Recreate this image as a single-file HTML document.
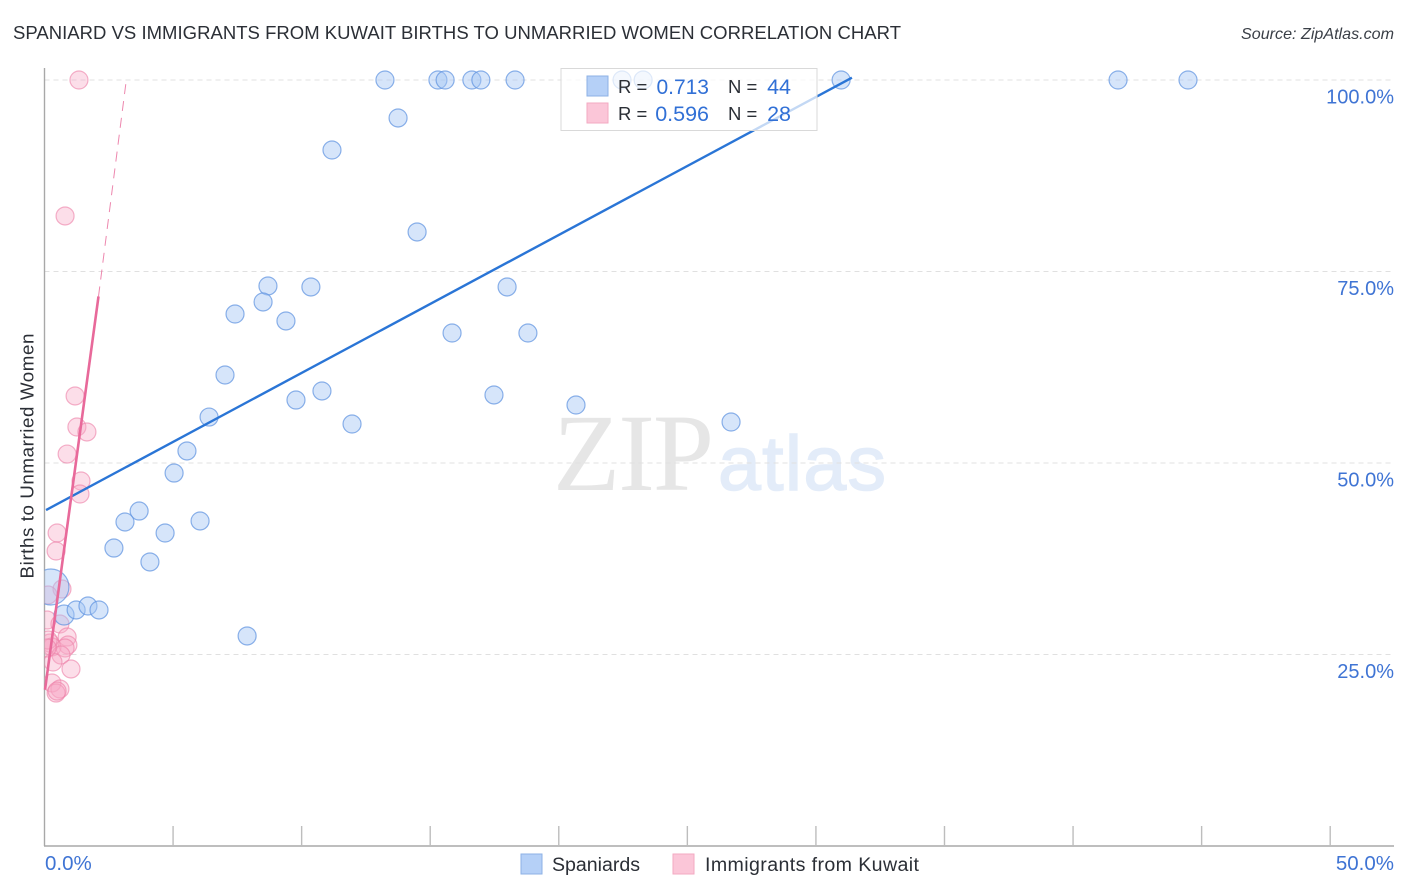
<!DOCTYPE html>
<html lang="en">
<head>
<meta charset="utf-8">
<title>Spaniard vs Immigrants from Kuwait Births to Unmarried Women Correlation Chart</title>
<style>
html,body{margin:0;padding:0;background:#fff;}
body{width:1406px;height:892px;overflow:hidden;}
svg{display:block;font-family:"Liberation Sans",sans-serif;}
</style>
</head>
<body>
<svg id="chart" width="1406" height="892" viewBox="0 0 1406 892" xmlns="http://www.w3.org/2000/svg">
  <defs>
    <clipPath id="plot-clip"><rect x="44.5" y="60" width="1350" height="786"/></clipPath>
  </defs>
  <rect width="1406" height="892" fill="#fff"/>
  <text x="13" y="39" font-size="18.5" fill="#2b2f36" textLength="888">SPANIARD VS IMMIGRANTS FROM KUWAIT BIRTHS TO UNMARRIED WOMEN CORRELATION CHART</text>
  <text x="1394" y="39" font-size="16.1" font-style="italic" fill="#3a3f47" text-anchor="end">Source: ZipAtlas.com</text>
  <g>
    <text x="553" y="490" font-family="'Liberation Serif',serif" font-size="110" fill="#e6e6e6" textLength="161">ZIP</text>
    <text x="718" y="490" font-size="77" fill="#e3ecf9" stroke="#e3ecf9" stroke-width="1.5" textLength="168">atlas</text>
  </g>
  <g id="grid"></g>
  <g id="axes"></g>
  <g id="pink-points" clip-path="url(#plot-clip)"></g>
  <g id="blue-points" clip-path="url(#plot-clip)"></g>
  <g id="trends"></g>
  <g>
    <rect x="561" y="68.5" width="256" height="62" fill="#fff" fill-opacity="0.72" stroke="#d9d9d9" stroke-width="1"/>
    <rect x="587" y="76" width="21" height="20" fill="#b5d0f7" stroke="#8db1e6"/>
    <rect x="587" y="103" width="21" height="20" fill="#fbc6d8" stroke="#f3a9c2"/>
    <text x="618" y="93" font-size="18.5" fill="#2b2f36">R =</text>
    <text x="709" y="94" font-size="21" fill="#3170d6" text-anchor="end">0.713</text>
    <text x="728" y="93" font-size="18.5" fill="#2b2f36">N =</text>
    <text x="791" y="94" font-size="21.5" fill="#3170d6" text-anchor="end">44</text>
    <text x="618" y="120" font-size="18.5" fill="#2b2f36">R =</text>
    <text x="709" y="121" font-size="21.5" fill="#3170d6" text-anchor="end">0.596</text>
    <text x="728" y="120" font-size="18.5" fill="#2b2f36">N =</text>
    <text x="791" y="121" font-size="21.5" fill="#3170d6" text-anchor="end">28</text>
  </g>
  <text transform="translate(33.5,456) rotate(-90)" font-size="18.8" fill="#2b2f36" text-anchor="middle" textLength="245">Births to Unmarried Women</text>
  <g>
    <rect x="521" y="854" width="21" height="20" fill="#b5d0f7" stroke="#8db1e6"/>
    <text x="552" y="871" font-size="19.6" fill="#2b2f36" textLength="88">Spaniards</text>
    <rect x="673" y="854" width="21" height="20" fill="#fbc6d8" stroke="#f3a9c2"/>
    <text x="705" y="871" font-size="19.6" fill="#2b2f36" textLength="214">Immigrants from Kuwait</text>
  </g>
</svg>
<script>
const yTickValues = [25, 50, 75, 100];
const yTickLabels = ["25.0%", "50.0%", "75.0%", "100.0%"];
const xTickValues = [0, 5, 10, 15, 20, 25, 30, 35, 40, 45, 50];
const xEndLabels = ["0.0%", "50.0%"];

const spaniardsX = [13.24,15.30,15.58,16.62,16.97,18.30,22.46,23.28,30.98,41.75,44.47,13.75,11.18,14.49,8.69,10.36,17.99,8.50,7.41,9.39,15.85,18.80,7.02,10.79,17.48,9.78,20.67,6.40,11.96,26.70,5.54,5.04,3.68,3.13,6.05,4.69,2.70,4.10,0.25,0.76,1.23,1.69,2.12,7.88];
const spaniardsY = [100,100,100,100,100,100,100,100,100,100,100,95.04,90.86,80.16,73.11,72.98,72.98,71.02,69.45,68.54,66.97,66.97,61.49,59.40,58.88,58.22,57.57,56.00,55.09,55.35,51.57,48.69,43.73,42.30,42.43,40.86,38.90,37.08,33.81,30.16,30.81,31.33,30.81,27.42];
const spaniardsR = [9,9,9,9,9,9,9,9,9,9,9,9,9,9,9,9,9,9,9,9,9,9,9,9,9,9,9,9,9,9,9,9,9,9,9,9,9,9,18,10,9,9,9,9];

const kuwaitX = [1.34,0.80,1.19,1.26,1.65,0.88,1.42,1.38,0.49,0.45,0.68,0.14,0.10,0.60,0.88,0.21,0.91,0.29,0.80,0.64,0.33,1.03,0.29,0.60,0.45,0.49,0.14,0.10];
const kuwaitY = [100,82.25,58.75,54.70,54.05,51.17,47.65,45.95,40.86,38.51,33.55,32.77,29.50,28.98,27.28,26.50,26.24,25.98,25.85,24.93,24.02,23.11,21.28,20.50,19.97,20.23,26.89,25.85];

const spaniardsTrendX = [0.06, 31.40];
const spaniardsTrendY = [43.86, 100.30];
const kuwaitTrendX = [0.02, 2.10];
const kuwaitTrendY = [20.40, 71.75];
const kuwaitDashX = [2.10, 3.17];
const kuwaitDashY = [71.75, 99.70];

const NS = "http://www.w3.org/2000/svg";
function xScale(v) { return 44.5 + v * 25.714; }
function yScale(v) { return 846 - v * 7.66; }
function make(tag, attrs, parent) {
  const el = document.createElementNS(NS, tag);
  for (const k in attrs) el.setAttribute(k, attrs[k]);
  parent.appendChild(el);
  return el;
}

const grid = document.getElementById("grid");
const axes = document.getElementById("axes");

yTickValues.forEach(function (v, i) {
  const line = make("line", { x1: 44.5, x2: 1394, y1: yScale(v), y2: yScale(v), stroke: "#e0e0e0", "stroke-width": 1, "stroke-dasharray": "5 4" }, grid);
  
  
  const label = make("text", { x: 1394, y: yScale(v) + 23.5, "font-size": 20, fill: "#3f74d4", "text-anchor": "end" }, axes);
  
  
  label.textContent = yTickLabels[i];
});

const yAxisLine = make("line", { x1: 44.5, x2: 44.5, y1: 68, y2: 846, stroke: "#a8a8a8", "stroke-width": 1.4 }, axes);


const xAxisLine = make("line", { x1: 44, x2: 1394, y1: 846, y2: 846, stroke: "#a8a8a8", "stroke-width": 1.4 }, axes);



xTickValues.forEach(function (v) {
  if (v === 0) return;
  const tick = make("line", { x1: xScale(v), x2: xScale(v), y1: 826, y2: 846, stroke: "#bdbdbd", "stroke-width": 1.4 }, axes);
  
  
});

const xLabelStart = make("text", { x: 45, y: 870, "font-size": 20.5, fill: "#3f74d4" }, axes);


xLabelStart.textContent = xEndLabels[0];
const xLabelEnd = make("text", { x: 1394, y: 870, "font-size": 20.5, fill: "#3f74d4", "text-anchor": "end" }, axes);


xLabelEnd.textContent = xEndLabels[1];

const pinkGroup = document.getElementById("pink-points");
kuwaitX.forEach(function (v, i) {
  const c = make("circle", { cx: xScale(v), cy: yScale(kuwaitY[i]), r: 9, fill: "#f7a9c4", "fill-opacity": 0.38, stroke: "#ec7fa6", "stroke-opacity": 0.6, "stroke-width": 1.2 }, pinkGroup);
  
  
});

const blueGroup = document.getElementById("blue-points");
spaniardsX.forEach(function (v, i) {
  const c = make("circle", { cx: xScale(v), cy: yScale(spaniardsY[i]), r: spaniardsR[i], fill: "#a5c6f3", "fill-opacity": 0.45, stroke: "#5c92e0", "stroke-opacity": 0.7, "stroke-width": 1.2 }, blueGroup);
  
  
});

const trends = document.getElementById("trends");
const blueTrend = make("line", { x1: xScale(spaniardsTrendX[0]), y1: yScale(spaniardsTrendY[0]), x2: xScale(spaniardsTrendX[1]), y2: yScale(spaniardsTrendY[1]), stroke: "#2a75d6", "stroke-width": 2.4 }, trends);


const pinkTrend = make("line", { x1: xScale(kuwaitTrendX[0]), y1: yScale(kuwaitTrendY[0]), x2: xScale(kuwaitTrendX[1]), y2: yScale(kuwaitTrendY[1]), stroke: "#e8699a", "stroke-width": 2.6 }, trends);


const pinkDash = make("line", { x1: xScale(kuwaitDashX[0]), y1: yScale(kuwaitDashY[0]), x2: xScale(kuwaitDashX[1]), y2: yScale(kuwaitDashY[1]), stroke: "#e8699a", "stroke-width": 1, "stroke-dasharray": "10 7", "stroke-opacity": 0.8 }, trends);


</script>
</body>
</html>
